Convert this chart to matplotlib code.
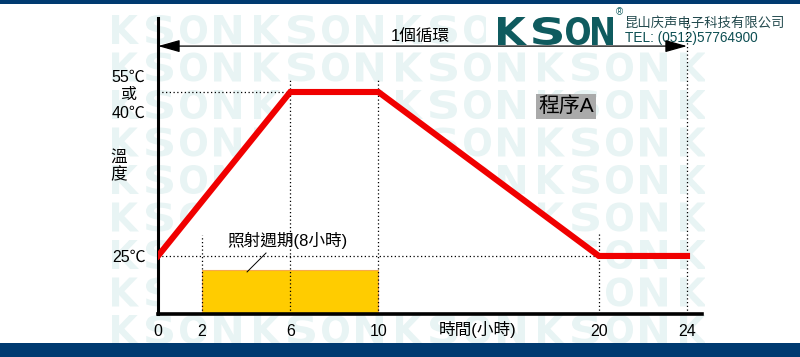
import matplotlib
matplotlib.use("Agg")
import matplotlib.pyplot as plt
from matplotlib.textpath import TextPath
from matplotlib.font_manager import FontProperties
from matplotlib.patches import PathPatch, Rectangle
from matplotlib.transforms import Affine2D

plt.rcParams['font.family'] = ['Liberation Sans', 'Noto Sans CJK TC', 'DejaVu Sans']

# temperature profile (hours, deg C)
profile_x = [0, 6, 10, 20, 24]
profile_y = [25, 40, 40, 25, 25]

# irradiation period
irr_start = 2
irr_end = 10
irr_top = 23.7

xticks = [0, 2, 6, 10, 20, 24]
yticks = [25, 40]
ytick_labels = ["25℃", "55℃\n或\n40℃"]

# dotted guide lines: (x, top of line)
guide_x = [2, 6, 10, 20, 24]
guide_top = [26.9, 41.3, 41.3, 27.2, 46.9]
# horizontal guides: (y, x end)
guide_y = [40, 25]
guide_xend = [6, 20]

navy = "#003a70"
teal = "#0f5b5f"
mark = "#e8f4f4"

fig = plt.figure(figsize=(8, 3.57), dpi=100)

# background layer in pixel coords (y down)
bg = fig.add_axes([0, 0, 1, 1], zorder=0)
bg.set_xlim(0, 800)
bg.set_ylim(357, 0)
bg.axis("off")

fp = FontProperties(family="DejaVu Sans", weight="bold")


def letter(ax, ch, x, top, w, h, color, z, clip=None):
    tp = TextPath((0, 0), ch, size=1, prop=fp)
    bb = tp.get_extents()
    tr = Affine2D().translate(-bb.x0, -bb.y0).scale(w / bb.width, -h / bb.height).translate(x, top + h)
    p = PathPatch(tr.transform_path(tp), facecolor=color, edgecolor="none", zorder=z)
    ax.add_patch(p)
    if clip is not None:
        p.set_clip_path(clip)


# watermark
clip = Rectangle((112, 4), 593, 340, transform=bg.transData)
for r in range(9):
    top = 15 + 37.5 * r
    for wd in range(5):
        for i, ch in enumerate("KSON"):
            x0 = 112 + wd * 142 + i * 34
            letter(bg, ch, x0, top, 27, 29, mark, 1, clip)

# logo
bg.add_patch(Rectangle((486, 4), 320, 45, facecolor="white", edgecolor="none", zorder=2))
for ch, x0, w in zip("KSON", [498, 533, 566, 592], [29, 29, 24, 21]):
    letter(bg, ch, x0, 17, w, 28, teal, 3)
bg.text(619, 12, "®", fontsize=7, color=teal, ha="center", va="center", zorder=3)
bg.text(625, 22.5, "昆山庆声电子科技有限公司", fontsize=9.6, color="#234a4e",
        ha="left", va="center", zorder=3, family=["Noto Sans CJK SC", "DejaVu Sans"])
bg.text(625, 38, "TEL: (0512)57764900", fontsize=9.8, color="#0d4f53",
        ha="left", va="center", zorder=3)

# navy bars
bg.add_patch(Rectangle((0, 0), 800, 4, facecolor=navy, edgecolor="none", zorder=5))
bg.add_patch(Rectangle((0, 343), 800, 14, facecolor=navy, edgecolor="none", zorder=5))

# main chart
ax = fig.add_axes([158 / 800, 43 / 357, 544 / 800, 296 / 357], zorder=1)
ax.set_facecolor("none")
ax.set_xlim(0, 24.68)
ax.set_ylim(19.69, 46.77)
for s in ["top", "right"]:
    ax.spines[s].set_visible(False)
ax.spines["left"].set_linewidth(2.2)
ax.spines["bottom"].set_linewidth(2.6)

# white area under the profile
ax.fill_between(profile_x[:4], profile_y[:4], 19.69, color="white", zorder=0.5, lw=0)

for gx, gt in zip(guide_x, guide_top):
    ax.plot([gx, gx], [19.69, gt], color="black", lw=0.9, ls=(0, (1, 2)), zorder=2)
for gy, ge in zip(guide_y, guide_xend):
    ax.plot([0, ge], [gy, gy], color="black", lw=0.9, ls=(0, (1, 2)), zorder=2)

ax.add_patch(Rectangle((irr_start, 19.69), irr_end - irr_start, irr_top - 19.69,
                       facecolor="#ffcc00", edgecolor="#f7a94a", lw=0.8, zorder=1.5))
ax.plot([4.90, 4.04], [25.27, 23.54], color="black", lw=0.7, zorder=3)
ax.text(5.85, 26.46, "照射週期(8小時)", fontsize=12, ha="center", va="center")

ax.plot(profile_x, profile_y, color="#f00000", lw=4.4, solid_joinstyle="miter", zorder=4)

ax.annotate("", xy=(24, 44.2), xytext=(0, 44.2),
            arrowprops=dict(arrowstyle="<|-|>,head_length=1.35,head_width=0.38",
                            color="black", lw=0.9, mutation_scale=10,
                            shrinkA=0, shrinkB=0), zorder=5)
ax.text(11.9, 45.1, "1個循環", fontsize=12, ha="center", va="center")

ax.text(18.51, 38.67, "程序A", fontsize=15, ha="center", va="center",
        bbox=dict(boxstyle="square,pad=0.12", facecolor="#aaaaaa", edgecolor="none"))

ax.set_xticks(xticks)
ax.set_xticklabels([str(t) for t in xticks], fontsize=11.5)
ax.set_yticks(yticks)
ax.set_yticklabels(ytick_labels, fontsize=11.5, linespacing=1.25)
for lb in ax.get_yticklabels():
    lb.set_multialignment("center")
ax.tick_params(length=0)
ax.tick_params(axis="x", pad=7)
ax.tick_params(axis="y", pad=9)

ax.set_ylabel("溫\n度", rotation=0, fontsize=12, linespacing=1.1, va="center", ha="center")
ax.yaxis.set_label_coords(-0.072, 0.5)
ax.set_xlabel("時間(小時)", fontsize=12, va="center")
ax.xaxis.set_label_coords(0.588, -0.054)

fig.savefig("out.png", dpi=100)
